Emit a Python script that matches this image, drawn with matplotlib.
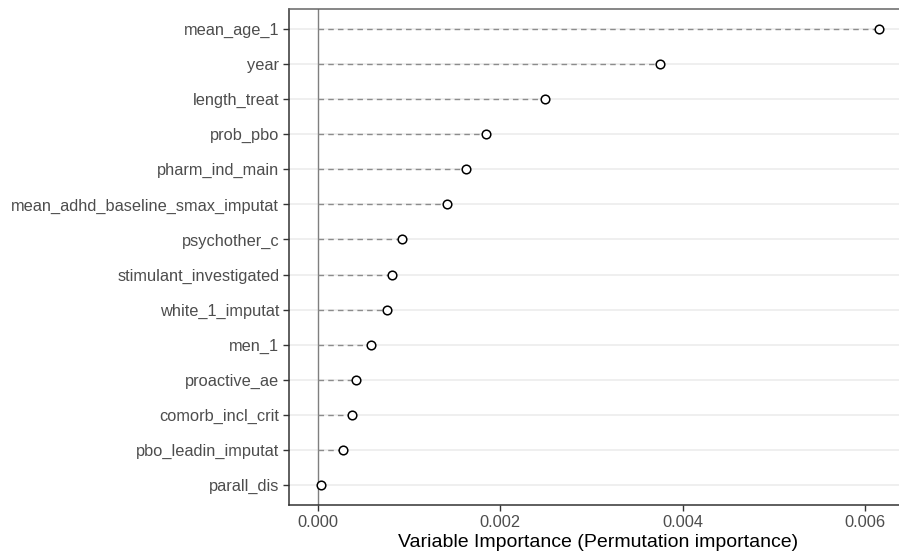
import matplotlib
matplotlib.use('Agg')
import matplotlib.pyplot as plt

# variables, top to bottom as shown
variables = [
    'mean_age_1', 'year', 'length_treat', 'prob_pbo', 'pharm_ind_main',
    'mean_adhd_baseline_smax_imputat', 'psychother_c', 'stimulant_investigated',
    'white_1_imputat', 'men_1', 'proactive_ae', 'comorb_incl_crit',
    'pbo_leadin_imputat', 'parall_dis',
]
importance = [
    0.00615, 0.003745, 0.002488, 0.001838, 0.001622,
    0.001417, 0.000924, 0.000807, 0.00076, 0.000577,
    0.00042, 0.000376, 0.000274, 0.00003,
]
xticks = [0.000, 0.002, 0.004, 0.006]
xlabel = 'Variable Importance (Permutation importance)'

plt.rcParams['font.family'] = ['Liberation Sans', 'DejaVu Sans']

fig = plt.figure(figsize=(8.99, 5.6), dpi=100)
ax = fig.add_axes([289 / 899, 55 / 560, 1 - 289 / 899 + 0.01, 496 / 560])

n = len(variables)
ypos = [n - i for i in range(n)]

for y in ypos:
    ax.axhline(y, color='#ebebeb', lw=1.1, zorder=0)
ax.axvline(0, color='#7f7f7f', lw=1.0, zorder=1)

ax.hlines(ypos, 0, importance, colors='#8c8c8c', linestyles=(0, (4, 3)),
          lw=1.0, zorder=2)
ax.plot(importance, ypos, 'o', ms=6.2, mfc='white', mec='black', mew=1.1,
        zorder=3)

ax.set_ylim(0.43, n + 0.57)
ax.set_xlim(-0.000318, 0.00647)
ax.set_yticks(ypos)
ax.set_yticklabels(variables)
ax.set_xticks(xticks)
ax.set_xticklabels([f'{v:.3f}' for v in xticks])

ax.tick_params(axis='both', labelsize=11.8, labelcolor='#4d4d4d',
               color='#333333', length=4, width=1)
ax.tick_params(axis='y', pad=3)
ax.tick_params(axis='x', pad=3)
ax.set_xlabel(xlabel, fontsize=14, color='black', labelpad=3)

for side in ['left', 'bottom']:
    ax.spines[side].set_color('#333333')
    ax.spines[side].set_linewidth(1.1)
ax.spines['top'].set_color('#666666')
ax.spines['top'].set_linewidth(1.1)
ax.spines['right'].set_visible(False)

fig.savefig('out.png', dpi=100)
